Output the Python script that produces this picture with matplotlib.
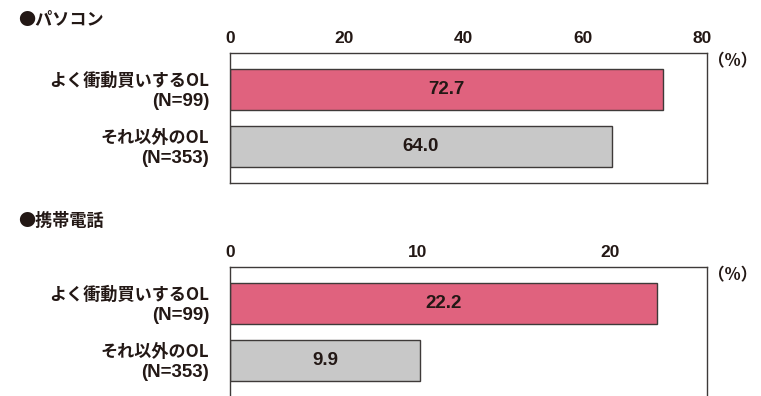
import matplotlib
matplotlib.use('Agg')
import matplotlib.pyplot as plt
import matplotlib.transforms as mtransforms

# フォント設定（欧文は Liberation Sans、和文は Noto Sans CJK JP）
plt.rcParams['font.family'] = ['Liberation Sans', 'Noto Sans CJK JP', 'DejaVu Sans']
plt.rcParams['font.weight'] = 'bold'

# データ
group_names = ['よく衝動買いするOL', 'それ以外のOL']
group_n = ['(N=99)', '(N=353)']
pc_values = [72.7, 64.0]
mobile_values = [22.2, 9.9]
pc_ticks = [0, 20, 40, 60, 80]
mobile_ticks = [0, 10, 20]

bar_colors = ['#E0627E', '#C8C8C8']
text_color = '#231815'
edge_color = '#3E3A39'

W, H = 761, 396
fig = plt.figure(figsize=(W / 100, H / 100), dpi=100)


def draw_panel(ax, values, ticks, xmax):
    y = list(range(len(values)))
    ax.barh(y, values, height=0.72, color=bar_colors, edgecolor=edge_color, linewidth=1.0)
    for i, v in enumerate(values):
        ax.text(v / 2, i, f'{v:.1f}', ha='center', va='center', fontsize=13.5,
                fontweight='bold', color=text_color)
    ax.set_xlim(0, xmax)
    ax.set_ylim(1.64, -0.64)
    ax.xaxis.tick_top()
    ax.set_xticks(ticks)
    ax.set_xticklabels([str(t) for t in ticks], fontsize=12.5, fontweight='bold', color=text_color)
    ax.set_yticks([])
    ax.tick_params(axis='x', length=0, pad=5)
    # 目盛ラベルを少し左へ
    offset = mtransforms.ScaledTranslation(-5 / 100, 0, fig.dpi_scale_trans)
    for t in ax.get_xticklabels()[1:]:
        t.set_transform(t.get_transform() + offset)
    # 項目名（2行）
    trans = mtransforms.blended_transform_factory(ax.transAxes, ax.transData)
    for i in y:
        ax.annotate(group_names[i], xy=(0, i), xycoords=trans, xytext=(-15, 6),
                    textcoords='offset points', ha='right', va='center', fontsize=12.3,
                    fontweight='bold', color=text_color,
                    family=['Noto Sans CJK JP', 'DejaVu Sans'])
        ax.annotate(group_n[i], xy=(0, i), xycoords=trans, xytext=(-15, -8.5),
                    textcoords='offset points', ha='right', va='center', fontsize=13.5,
                    fontweight='bold', color=text_color)
    for s in ax.spines.values():
        s.set_color(edge_color)
        s.set_linewidth(1.0)


# パソコン
ax1 = fig.add_axes([230 / W, 1 - 183 / H, 477 / W, 130 / H])
draw_panel(ax1, pc_values, pc_ticks, 80)

# 携帯電話
ax2 = fig.add_axes([230 / W, 1 - 397 / H, 477 / W, 130 / H])
draw_panel(ax2, mobile_values, mobile_ticks, 24.8)

# タイトル
title_font = ['Noto Sans CJK JP', 'DejaVu Sans']
fig.text(18 / W, 1 - 19.5 / H, '●パソコン', ha='left', va='center', fontsize=12.3,
         fontweight='bold', color=text_color, family=title_font)
fig.text(18 / W, 1 - 220.5 / H, '●携帯電話', ha='left', va='center', fontsize=12.3,
         fontweight='bold', color=text_color, family=title_font)

# 単位
fig.text(733 / W, 1 - 61 / H, '（%）', ha='center', va='center', fontsize=12,
         fontweight='bold', color=text_color, family=title_font)
fig.text(733 / W, 1 - 275 / H, '（%）', ha='center', va='center', fontsize=12,
         fontweight='bold', color=text_color, family=title_font)

fig.savefig('out.png', dpi=100)
